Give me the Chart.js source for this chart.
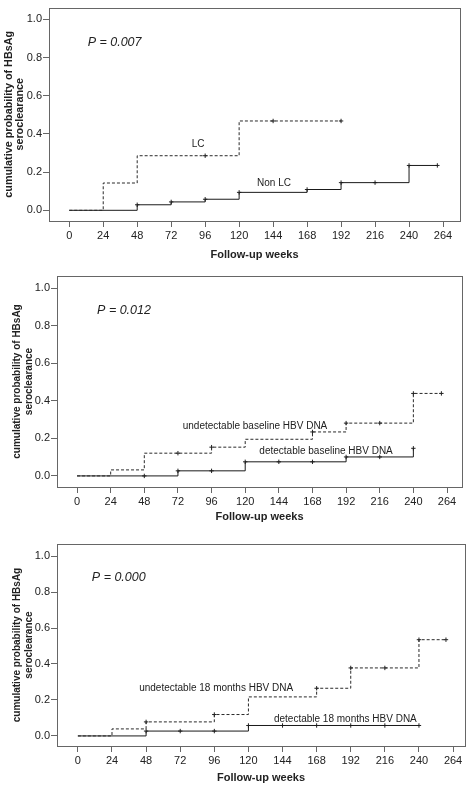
<!DOCTYPE html>
<html>
<head>
<meta charset="utf-8">
<script src="https://cdn.jsdelivr.net/npm/chart.js@4.4.1/dist/chart.umd.min.js"></script>
<style>
  html, body { margin: 0; padding: 0; background: #fff; }
  body { width: 470px; height: 787px; position: relative; overflow: hidden; }
  canvas { position: absolute; left: 0; }
</style>
</head>
<body>
<canvas id="km1" width="470" height="262" style="top:0px"></canvas>
<canvas id="km2" width="470" height="262" style="top:262px"></canvas>
<canvas id="km3" width="470" height="263" style="top:524px"></canvas>
<script>
// tick labels
const weekTicks = [0, 24, 48, 72, 96, 120, 144, 168, 192, 216, 240, 264];
const probTicks = [0, 0.2, 0.4, 0.6, 0.8, 1.0];

// panel 1: LC vs Non LC
const lcWeeks = [0, 24, 48, 120, 192];
const lcProb = [0, 0.143, 0.286, 0.468, 0.468];
const lcCensored = [96, 144, 192];
const nonLcWeeks = [0, 48, 72, 96, 120, 168, 192, 240, 260];
const nonLcProb = [0, 0.029, 0.044, 0.058, 0.094, 0.109, 0.145, 0.235, 0.235];
const nonLcCensored = [48, 72, 96, 120, 168, 192, 216, 240, 260];

// panel 2: baseline HBV DNA
const undetBaseWeeks = [0, 24, 48, 96, 120, 168, 192, 240, 260];
const undetBaseProb = [0, 0.032, 0.121, 0.153, 0.195, 0.234, 0.281, 0.439, 0.439];
const undetBaseCensored = [72, 96, 168, 192, 216, 240, 260];
const detBaseWeeks = [0, 72, 120, 192, 240];
const detBaseProb = [0, 0.027, 0.075, 0.101, 0.147];
const detBaseCensored = [48, 72, 96, 120, 144, 168, 192, 216, 240];

// panel 3: 18 months HBV DNA
const undet18Weeks = [0, 24, 48, 96, 120, 168, 192, 240, 259];
const undet18Prob = [0, 0.039, 0.078, 0.119, 0.217, 0.265, 0.378, 0.535, 0.535];
const undet18Censored = [48, 96, 168, 192, 216, 240, 259];
const det18Weeks = [0, 48, 120, 240];
const det18Prob = [0, 0.027, 0.058, 0.058];
const det18Censored = [48, 72, 96, 120, 144, 168, 192, 216, 240];

const TEXT = '#222';
const AXIS = '#666';
const FONT = "'Liberation Sans', Arial, sans-serif";

function probAt(weeks, prob, t) {
  let v = prob[0];
  for (let i = 0; i < weeks.length; i++) if (weeks[i] <= t) v = prob[i];
  return v;
}

const panels = [
  {
    id: 'km1', h: 262, pad: { top: 3, right: 10 }, yW: 49, xH: 41, xTitlePad: 0,
    yTitleSize: 10.8, yTitleLH: 1.0, yTitlePad: 3.5,
    xRange: [-14.3, 276], yRange: [-0.056, 1.062],
    pText: 'P = 0.007', pAt: [13, 0.877],
    curves: [
      { weeks: lcWeeks, prob: lcProb, censored: lcCensored, dashed: true, label: 'LC', labelAt: [91, 0.344] },
      { weeks: nonLcWeeks, prob: nonLcProb, censored: nonLcCensored, dashed: false, label: 'Non LC', labelAt: [144.6, 0.144] }
    ]
  },
  {
    id: 'km2', h: 262, pad: { top: 14, right: 8 }, yW: 57, xH: 37, xTitlePad: 0,
    yTitleSize: 10, yTitleLH: 1.2, yTitlePad: 11,
    xRange: [-14.3, 274.7], yRange: [-0.059, 1.064],
    pText: 'P = 0.012', pAt: [14.3, 0.878],
    curves: [
      { weeks: undetBaseWeeks, prob: undetBaseProb, censored: undetBaseCensored, dashed: true, label: 'undetectable baseline HBV DNA', labelAt: [127, 0.266] },
      { weeks: detBaseWeeks, prob: detBaseProb, censored: detBaseCensored, dashed: false, label: 'detectable baseline HBV DNA', labelAt: [177.7, 0.133] }
    ]
  },
  {
    id: 'km3', h: 263, pad: { top: 20, right: 4 }, yW: 57, xH: 41, xTitlePad: 2,
    yTitleSize: 10, yTitleLH: 1.2, yTitlePad: 11,
    xRange: [-14.7, 272.4], yRange: [-0.056, 1.067],
    pText: 'P = 0.000', pAt: [9.8, 0.883],
    curves: [
      { weeks: undet18Weeks, prob: undet18Prob, censored: undet18Censored, dashed: true, label: 'undetectable 18 months HBV DNA', labelAt: [97.3, 0.267] },
      { weeks: det18Weeks, prob: det18Prob, censored: det18Censored, dashed: false, label: 'detectable 18 months HBV DNA', labelAt: [188.2, 0.094] }
    ]
  }
];

// box around the plot area plus the text labels inside it
const boxAndLabels = {
  id: 'boxAndLabels',
  beforeDatasetsDraw(chart) {
    const { ctx, chartArea: a } = chart;
    ctx.save();
    ctx.strokeStyle = AXIS;
    ctx.lineWidth = 1;
    ctx.strokeRect(Math.round(a.left) + 0.5, Math.round(a.top) + 0.5,
      Math.round(a.right - a.left), Math.round(a.bottom - a.top));
    ctx.restore();
  },
  afterDatasetsDraw(chart, args, opts) {
    const { ctx, scales } = chart;
    const p = opts.panel;
    ctx.save();
    ctx.fillStyle = TEXT;
    ctx.textBaseline = 'middle';
    ctx.font = 'italic 12.5px ' + FONT;
    ctx.textAlign = 'left';
    ctx.fillText(p.pText, scales.x.getPixelForValue(p.pAt[0]), scales.y.getPixelForValue(p.pAt[1]));
    ctx.font = '10px ' + FONT;
    ctx.textAlign = 'center';
    p.curves.forEach(c => {
      ctx.fillText(c.label, scales.x.getPixelForValue(c.labelAt[0]), scales.y.getPixelForValue(c.labelAt[1]));
    });
    ctx.restore();
  }
};

panels.forEach(p => {
  const datasets = [];
  p.curves.forEach(c => {
    datasets.push({
      label: c.label,
      data: c.weeks.map((w, i) => ({ x: w, y: c.prob[i] })),
      stepped: true,
      borderColor: c.dashed ? '#2a2a2a' : '#1a1a1a',
      borderWidth: 1,
      borderDash: c.dashed ? [3, 2] : [],
      pointRadius: 0,
      fill: false
    });
    datasets.push({
      label: c.label + ' censored',
      data: c.censored.map(w => ({ x: w, y: probAt(c.weeks, c.prob, w) })),
      showLine: false,
      pointStyle: 'cross',
      pointRadius: 2.2,
      pointBorderWidth: 1,
      pointBorderColor: '#222',
      pointBackgroundColor: '#222'
    });
  });

  new Chart(document.getElementById(p.id).getContext('2d'), {
    type: 'line',
    data: { datasets },
    options: {
      responsive: false,
      animation: false,
      events: [],
      layout: { padding: { top: p.pad.top, right: p.pad.right, left: 0, bottom: 0 } },
      plugins: {
        legend: { display: false },
        tooltip: { enabled: false },
        boxAndLabels: { panel: p }
      },
      scales: {
        x: {
          type: 'linear',
          min: p.xRange[0],
          max: p.xRange[1],
          afterBuildTicks: s => { s.ticks = weekTicks.map(v => ({ value: v })); },
          afterFit: s => { s.height = p.xH; },
          border: { display: false },
          grid: { drawOnChartArea: false, drawTicks: true, tickLength: 6, color: AXIS },
          ticks: {
            padding: 2, color: TEXT, maxRotation: 0, autoSkip: false,
            font: { family: FONT, size: 11 },
            callback: v => String(v)
          },
          title: {
            display: true, text: 'Follow-up weeks', color: TEXT,
            font: { family: FONT, size: 11, weight: 'bold' },
            padding: { top: 0, bottom: p.xTitlePad }
          }
        },
        y: {
          type: 'linear',
          min: p.yRange[0],
          max: p.yRange[1],
          afterBuildTicks: s => { s.ticks = probTicks.map(v => ({ value: v })); },
          afterFit: s => { s.width = p.yW; },
          border: { display: false },
          grid: { drawOnChartArea: false, drawTicks: true, tickLength: 6, color: AXIS },
          ticks: {
            padding: 1, color: TEXT, autoSkip: false,
            font: { family: FONT, size: 11 },
            callback: v => v.toFixed(1)
          },
          title: {
            display: true,
            text: ['cumulative probability of HBsAg', 'seroclearance'],
            color: TEXT,
            font: { family: FONT, size: p.yTitleSize, weight: 'bold', lineHeight: p.yTitleLH },
            padding: { top: p.yTitlePad, bottom: 0 }
          }
        }
      }
    },
    plugins: [boxAndLabels]
  });
});
</script>
</body>
</html>
